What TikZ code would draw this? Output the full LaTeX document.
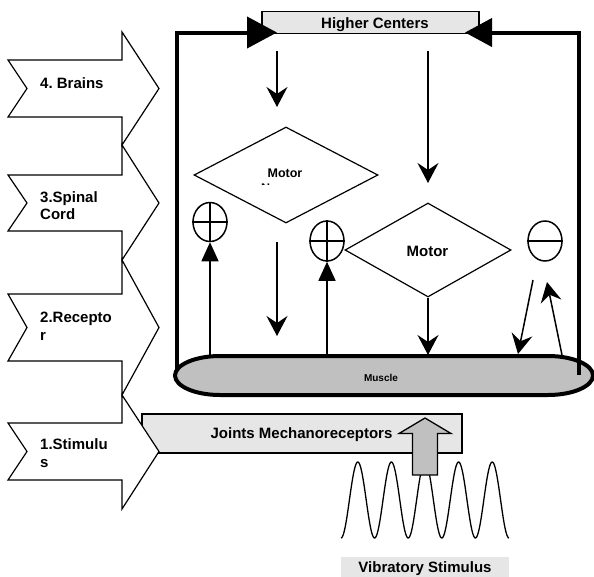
\documentclass[tikz,border=0pt]{standalone}
\usepackage{fontspec}
\setmainfont{Liberation Sans}
\usetikzlibrary{arrows.meta,shapes.geometric}
\definecolor{boxgray}{HTML}{E6E6E6}
\definecolor{musclegray}{HTML}{C0C0C0}
\frenchspacing
\newcommand\mychev[4]{%
  \draw[chev] (8,#1) -- (122,#1) -- (122,#3) -- (159,{(#1+#2)/2}) -- (122,#4) -- (122,#2) -- (8,#2) -- (27,{(#1+#2)/2}) -- cycle;}
\begin{document}
\begin{tikzpicture}[x=1pt,y=-1pt,
  chev/.style={draw, fill=white, line width=1.2pt, line join=miter},
  frame/.style={line width=4pt, line join=miter},
  dnarrow/.style={line width=1.5pt, -{Stealth[length=20pt,width=21pt,inset=7pt]}},
  uparrow/.style={line width=1.5pt, -{Triangle[length=19pt,width=17pt]}},
  lbl/.style={font=\fontsize{15}{17}\selectfont\bfseries, inner sep=0pt},
  smalllbl/.style={font=\fontsize{12.5}{14}\selectfont\bfseries, inner sep=0pt},
  sign/.style={draw, ellipse, line width=1.5pt, minimum width=34, minimum height=39, inner sep=0pt},
  dia/.style={draw, diamond, line width=1.2pt, inner sep=0pt},
]
\useasboundingbox (0,0) rectangle (594,576);

% Joints Mechanoreceptors box (behind the chevrons)
\node[draw, fill=boxgray, line width=1.2pt, minimum width=320, minimum height=39, inner sep=0pt] (jm) at (302,433.5) {};
\node[lbl, anchor=base] (jmt) at (301.5,438) {Joints Mechanoreceptors};

% chevrons
\mychev{60}{117}{32}{145}
\mychev{175}{231}{145}{260}
\mychev{294}{361}{260}{395}
\mychev{423}{480}{395}{509}
\node[lbl, anchor=base west] (c4) at (40,88) {4. Brains};
\node[lbl, anchor=base west] (c3a) at (40,202.5) {3.Spinal};
\node[lbl, anchor=base west] (c3b) at (40,219) {Cord};
\node[lbl, anchor=base west] (c2a) at (40,322.5) {2.Recepto};
\node[lbl, anchor=base west] (c2b) at (40,340) {r};
\node[lbl, anchor=base west] (c1a) at (40,449) {1.Stimulu};
\node[lbl, anchor=base west] (c1b) at (40,467) {s};

% Higher centers
\node[draw, fill=boxgray, line width=1.3pt, minimum width=217, minimum height=22, inner sep=0pt] (hc) at (370.5,22.5) {};
\node[lbl, anchor=base] (hct) at (375,28) {Higher Centers};

% frame coordinates
\coordinate (fl) at (177,378);
\coordinate (ftl) at (277,32.5);
\coordinate (fr) at (579,375);
\coordinate (ftr) at (465,32.5);
\draw[frame, -{Triangle[length=30pt,width=31pt]}] (fl) |- (ftl);

% muscle
\draw[line width=4pt, fill=musclegray] (220,356) -- (548,356)
  arc[start angle=-90, end angle=90, x radius=45, y radius=19.5] -- (220,395)
  arc[start angle=90, end angle=270, x radius=45, y radius=19.5] -- cycle;
\node[font=\fontsize{10}{12}\selectfont\bfseries, inner sep=0pt, anchor=base] (mus) at (381,381.5) {Muscle};

\draw[frame, -{Triangle[length=27pt,width=28pt]}] (fr) |- (ftr);

% diamonds
\node[dia, minimum width=184, minimum height=96] (d1) at (286,175) {};
\node[smalllbl, anchor=base] (d1t) at (285,177) {Motor};
\begin{scope}
  \clip (240,180) rectangle (330,184.6);
  \node[smalllbl, anchor=base] (d1n) at (283,192) {Neuron};
\end{scope}
\node[dia, minimum width=166, minimum height=94] (d2) at (428,250) {};
\node[lbl, anchor=base] (d2t) at (427.5,256) {Motor};

% signs
\node[sign] (p1) at (210,222) {};
\draw[line width=1.5pt] (p1.north) -- (p1.south) (p1.west) -- (p1.east);
\node[sign, minimum height=40] (p2) at (327,241) {};
\draw[line width=1.5pt] (p2.north) -- (p2.south) (p2.west) -- (p2.east);
\node[sign, minimum height=40] (mn) at (545,241) {};
\draw[line width=1.5pt] (mn.west) -- (mn.east);

% coordinates for free arrow ends
\coordinate (a1s) at (277,51);  \coordinate (a1e) at (277,107);
\coordinate (a2s) at (428,51);  \coordinate (a2e) at (428,183);
\coordinate (a3s) at (277,242); \coordinate (a3e) at (277,336);
\coordinate (m1) at (210,356);
\coordinate (m2) at (327,356);
\coordinate (m3) at (428,355);
\coordinate (n1s) at (533,280); \coordinate (n1e) at (518,354);
\coordinate (n2s) at (562,355); \coordinate (n2e) at (547,282);

\draw[dnarrow] (a1s) -- (a1e);
\draw[dnarrow] (a2s) -- (a2e);
\draw[dnarrow] (a3s) -- (a3e);
\draw[dnarrow] (d2.south) -- (m3);
\draw[uparrow] (m1) -- (p1.south);
\draw[uparrow] (m2) -- (p2.south);
\draw[dnarrow] (n1s) -- (n1e);
\draw[dnarrow] (n2s) -- (n2e);

% vibration
\draw[line width=1.3pt] plot[domain=341:509, samples=241, smooth] (\x, {500+38*cos(10.7143*(\x-341))});
\draw[fill=musclegray, line width=1.3pt, line join=miter] (412.5,475) -- (412.5,433.5) -- (399,433.5) -- (425,418) -- (451,433.5) -- (437.5,433.5) -- (437.5,475) -- cycle;
\node[fill=boxgray, minimum width=168, minimum height=21, inner sep=0pt] (vs) at (425,567.5) {};
\node[lbl, anchor=base] (vst) at (425,572) {Vibratory Stimulus};
\end{tikzpicture}
\end{document}
